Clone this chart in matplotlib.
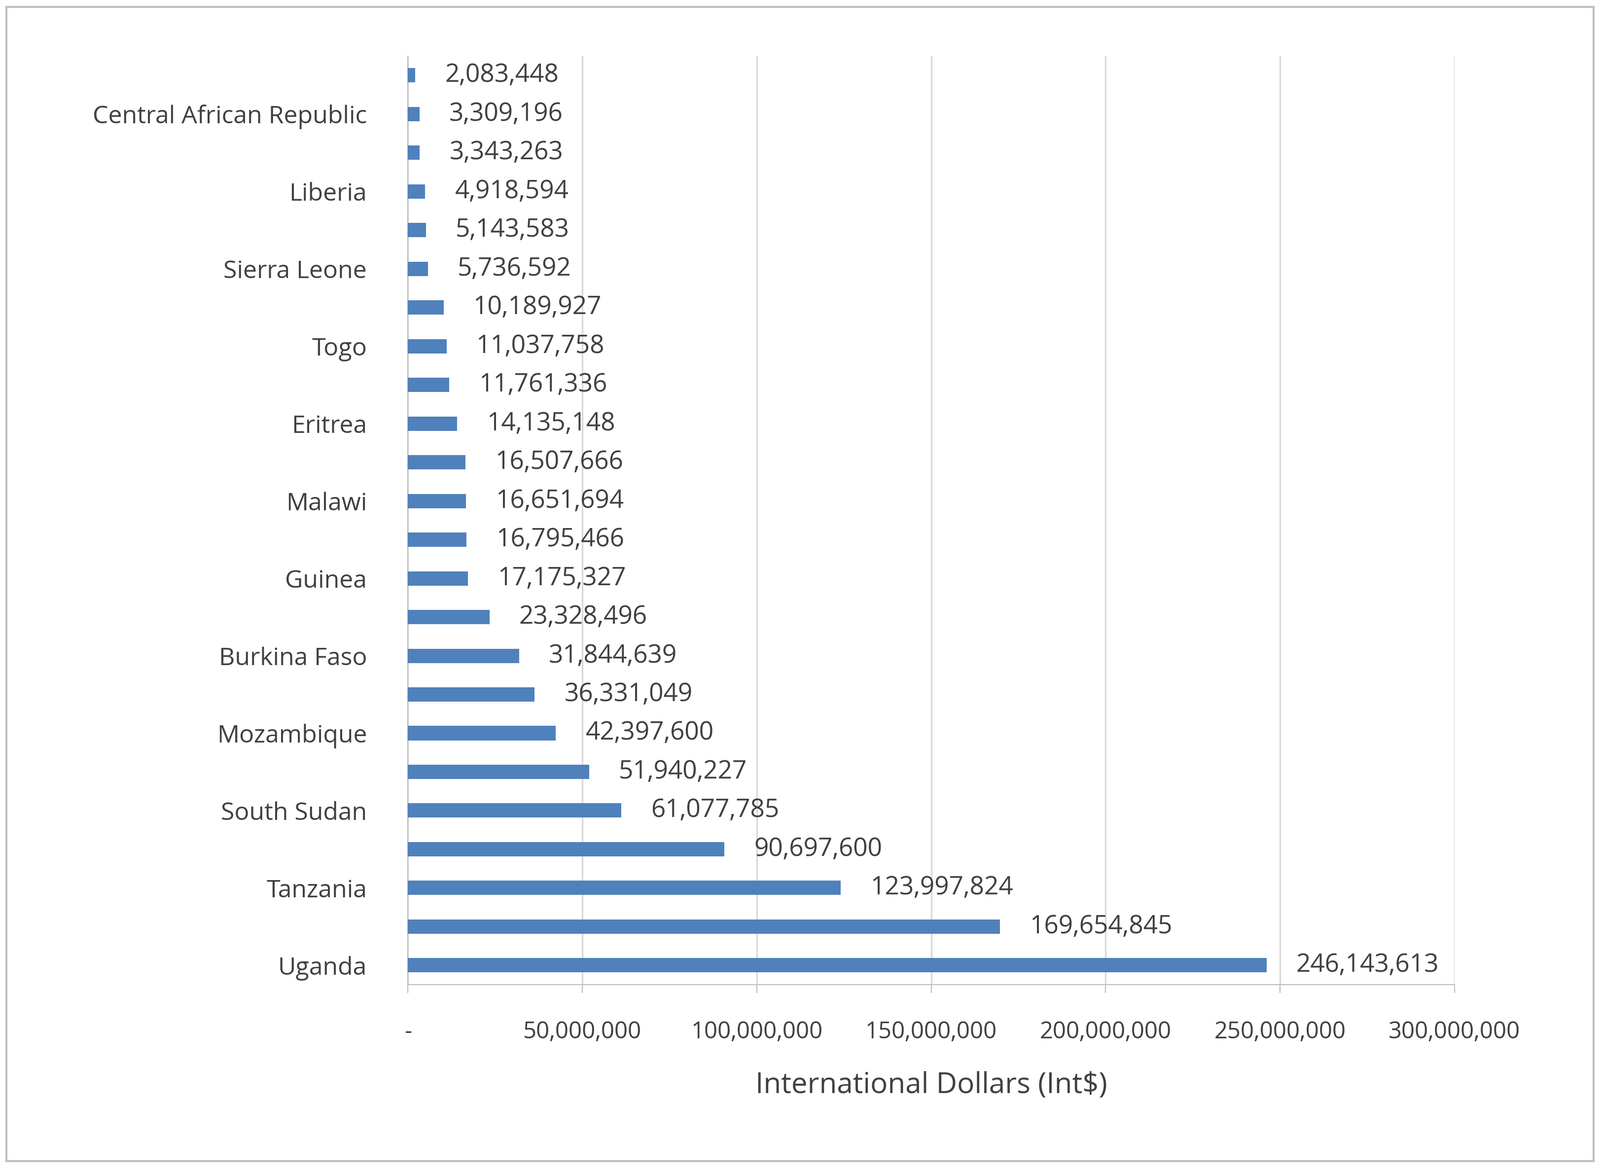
import matplotlib
matplotlib.use("Agg")
import matplotlib.pyplot as plt
from matplotlib.patches import Rectangle

countries = ["Uganda", "", "Tanzania", "", "South Sudan", "", "Mozambique", "",
             "Burkina Faso", "", "Guinea", "", "Malawi", "", "Eritrea", "",
             "Togo", "", "Sierra Leone", "", "Liberia", "", "Central African Republic", ""]
values = [246143613, 169654845, 123997824, 90697600, 61077785, 51940227, 42397600,
          36331049, 31844639, 23328496, 17175327, 16795466, 16651694, 16507666,
          14135148, 11761336, 11037758, 10189927, 5736592, 5143583, 4918594,
          3343263, 3309196, 2083448]
ticks = [0, 50e6, 100e6, 150e6, 200e6, 250e6, 300e6]
tick_labels = ["-", "50,000,000", "100,000,000", "150,000,000", "200,000,000",
               "250,000,000", "300,000,000"]

font = "Open Sans"
fig = plt.figure(figsize=(16.225, 11.845), dpi=200)
ax = fig.add_axes([0.255, 0.157, 0.654, 0.795])
y = range(len(values))
ax.barh(y, values, height=0.37, color="#4F81BD", zorder=3)
for i, v in enumerate(values):
    ax.text(v + 8.5e6, i, f"{v:,}", va="center", ha="left", fontsize=18.5,
            color="#404040", family=font)
ax.set_yticks(list(y))
ax.set_yticklabels(countries, fontsize=18, color="#404040", family=font)
ax.set_ylim(-0.5, len(values) - 0.5)
ax.set_xlim(0, 300e6)
ax.set_xticks(ticks)
ax.set_xticklabels(tick_labels, fontsize=17, color="#404040", family=font)
ax.tick_params(axis="y", length=0, pad=30)
ax.tick_params(axis="x", length=6, color="#BFBFBF", pad=20)
ax.grid(axis="x", color="#D9D9D9", linewidth=1.2, zorder=0)
for s in ["top", "right"]:
    ax.spines[s].set_visible(False)
for s in ["left", "bottom"]:
    ax.spines[s].set_color("#BFBFBF")
ax.set_xlabel("International Dollars (Int$)", fontsize=21, color="#404040",
              family=font, labelpad=20)
fig.patches.append(Rectangle((0.004, 0.006), 0.992, 0.988, transform=fig.transFigure,
                             fill=False, edgecolor="#BFBFBF", linewidth=1.5))
fig.savefig("out.png", dpi=200, facecolor="white")
